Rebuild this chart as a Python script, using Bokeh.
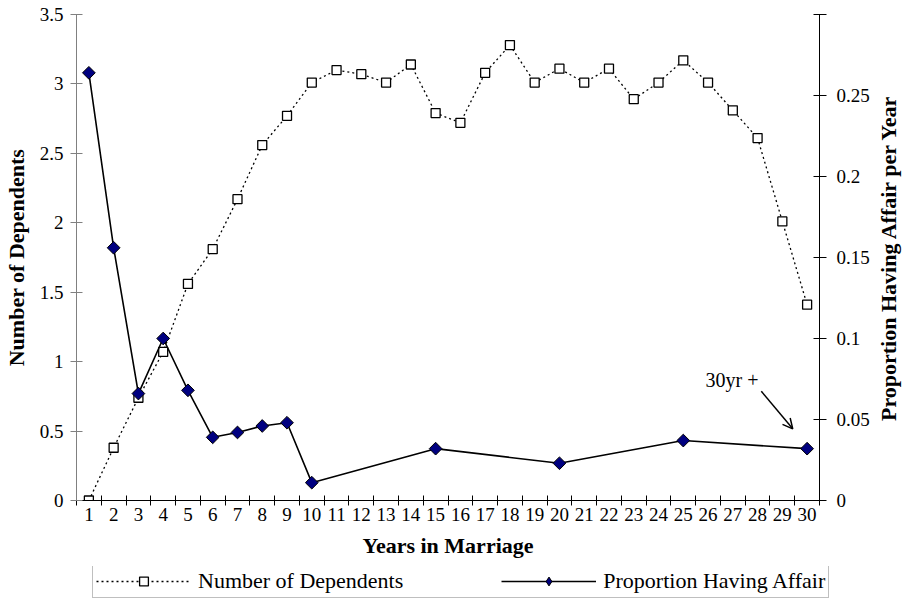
import numpy as np
from bokeh.plotting import figure
from bokeh.layouts import column, row
from bokeh.models import (Range1d, LinearAxis, FixedTicker, NumeralTickFormatter,
                          Legend, LegendItem, Label, Arrow, OpenHead)
from bokeh.embed import file_html
from bokeh.resources import INLINE

# ---- data ----
years = list(range(1, 31))
dependents = [0.0, 0.38, 0.74, 1.07, 1.56, 1.81, 2.17, 2.56, 2.77, 3.01,
              3.10, 3.07, 3.01, 3.14, 2.79, 2.72, 3.08, 3.28, 3.01, 3.11,
              3.01, 3.11, 2.89, 3.01, 3.17, 3.01, 2.81, 2.61, 2.01, 1.41]
affair_years = [1, 2, 3, 4, 5, 6, 7, 8, 9, 10, 15, 20, 25, 30]
affair = [0.264, 0.156, 0.066, 0.100, 0.068, 0.039, 0.042, 0.046, 0.048,
          0.011, 0.032, 0.023, 0.037, 0.032]
left_ticks = [0, 0.5, 1, 1.5, 2, 2.5, 3, 3.5]
right_ticks = [0, 0.05, 0.1, 0.15, 0.2, 0.25]
right_top = 0.3
x_title = "Years in Marriage"
left_title = "Number of Dependents"
right_title = "Proportion Having Affair per Year"
series_names = ["Number of Dependents", "Proportion Having Affair"]
note = "30yr +"

FONT = "Liberation Serif"
TICK_SIZE = "19px"
TITLE_SIZE = "22px"
MAIN_W = 76 + 743 + 52


def no_align(fig):
    try:
        fig.frame_align = False
    except AttributeError:
        pass


p = figure(frame_width=743, frame_height=486, output_backend="svg", toolbar_location=None,
           x_range=Range1d(0.5, 30.5), y_range=Range1d(0, 3.5),
           min_border_left=76, min_border_right=52, min_border_top=14,
           min_border_bottom=66)
p.extra_y_ranges = {"right": Range1d(0, right_top)}
p.outline_line_color = None
p.xgrid.visible = False
p.ygrid.visible = False

# x axis
xa = p.xaxis[0]
xa.ticker = FixedTicker(ticks=years, minor_ticks=[y - 0.5 for y in years] + [years[-1] + 0.5])
xa.major_tick_line_color = None
xa.minor_tick_line_color = "black"
xa.minor_tick_in = 5
xa.minor_tick_out = 5
xa.axis_line_color = "black"
xa.major_label_text_font = FONT
xa.major_label_text_font_size = TICK_SIZE
xa.major_label_text_color = "black"
xa.major_label_standoff = 1
xa.axis_label = x_title
xa.axis_label_text_font = FONT
xa.axis_label_text_font_size = TITLE_SIZE
xa.axis_label_text_font_style = "bold"
xa.axis_label_text_color = "black"
xa.axis_label_standoff = 9

# left axis
ya = p.yaxis[0]
ya.ticker = FixedTicker(ticks=left_ticks)
ya.formatter = NumeralTickFormatter(format="0.[0]")
ya.minor_tick_line_color = None
ya.major_tick_in = 6
ya.major_tick_out = 6
ya.axis_line_color = "#808080"
ya.major_tick_line_color = "#808080"
ya.major_label_text_font = FONT
ya.major_label_text_font_size = TICK_SIZE
ya.major_label_text_color = "black"
ya.major_label_standoff = 7
ya.axis_label = left_title
ya.axis_label_text_font = FONT
ya.axis_label_text_font_size = TITLE_SIZE
ya.axis_label_text_font_style = "bold"
ya.axis_label_text_color = "black"
ya.axis_label_standoff = 8

# right axis
ra = LinearAxis(y_range_name="right",
                ticker=FixedTicker(ticks=right_ticks, minor_ticks=[right_top]),
                formatter=NumeralTickFormatter(format="0.[00]"))
ra.major_tick_in = 6
ra.major_tick_out = 7
ra.minor_tick_in = 6
ra.minor_tick_out = 7
ra.minor_tick_line_color = "black"
ra.axis_line_color = "black"
ra.major_label_text_font = FONT
ra.major_label_text_font_size = TICK_SIZE
ra.major_label_text_color = "black"
ra.major_label_standoff = 10
p.add_layout(ra, "right")

# series
DEP_STYLE = dict(line_color="black", line_width=1.3, line_dash="2 3")
DEP_PT = dict(marker="square", size=9, fill_color="white", line_color="black", line_width=1.3)
AFF_STYLE = dict(line_color="black", line_width=1.6)
AFF_PT = dict(marker="square", angle=np.pi / 4, size=9, fill_color="#000080",
              line_color="black", line_width=1)

p.line(years, dependents, **DEP_STYLE)
p.scatter(years, dependents, **DEP_PT)
p.line(affair_years, affair, y_range_name="right", **AFF_STYLE)
p.scatter(affair_years, affair, y_range_name="right", **AFF_PT)

# annotation
p.add_layout(Label(x=25.9, y=0.871, text=note, text_align="left", text_baseline="middle",
                   text_font=FONT, text_font_size="20px", text_color="black"))
p.add_layout(Arrow(x_start=28.15, y_start=0.787, x_end=29.42, y_end=0.516,
                   line_color="black", line_width=1.5,
                   end=OpenHead(size=10, line_color="black", line_width=1.5)))

# right-hand axis title strip
side = figure(width=32, height=566, output_backend="svg", toolbar_location=None,
              x_axis_type=None, y_axis_type=None,
              min_border_left=0, min_border_right=0, min_border_top=14,
              min_border_bottom=66, x_range=Range1d(0, 1), y_range=Range1d(0, 3.5))
no_align(side)
side.outline_line_color = None
side.xgrid.visible = False
side.ygrid.visible = False
side.add_layout(Label(x=0.5, y=1.75, text=right_title, angle=np.pi / 2,
                      text_align="center", text_baseline="middle", text_font=FONT,
                      text_font_size=TITLE_SIZE, text_font_style="bold", text_color="black"))

# legend strip below the chart (renderers lie outside its visible range)
lg = figure(width=MAIN_W, height=40, output_backend="svg", toolbar_location=None,
            x_axis_type=None, y_axis_type=None, min_border=0,
            min_border_left=0, min_border_right=0, min_border_top=0, min_border_bottom=0,
            x_range=Range1d(100, 101), y_range=Range1d(100, 101))
no_align(lg)
lg.outline_line_color = None
lg.xgrid.visible = False
lg.ygrid.visible = False
r1 = lg.line(years, dependents, **DEP_STYLE)
r2 = lg.scatter(years, dependents, **DEP_PT)
r3 = lg.line(affair_years, affair, **AFF_STYLE)
r4 = lg.scatter(affair_years, affair, marker="diamond", size=12, fill_color="#000080",
                line_color="black", line_width=1)
legend = Legend(items=[LegendItem(label=series_names[0], renderers=[r1, r2]),
                       LegendItem(label=series_names[1], renderers=[r3, r4])],
                orientation="horizontal", location=(92, 8),
                label_text_font=FONT, label_text_font_size="22px", label_text_color="black",
                glyph_width=95, glyph_height=22, spacing=98, label_standoff=7,
                border_line_color="#808080", border_line_width=1.5,
                padding=3, margin=0, background_fill_color="white")
lg.add_layout(legend, "center")

layout = row(column(p, lg, spacing=0), side, spacing=0)
open("out.html", "w").write(file_html(layout, INLINE))
